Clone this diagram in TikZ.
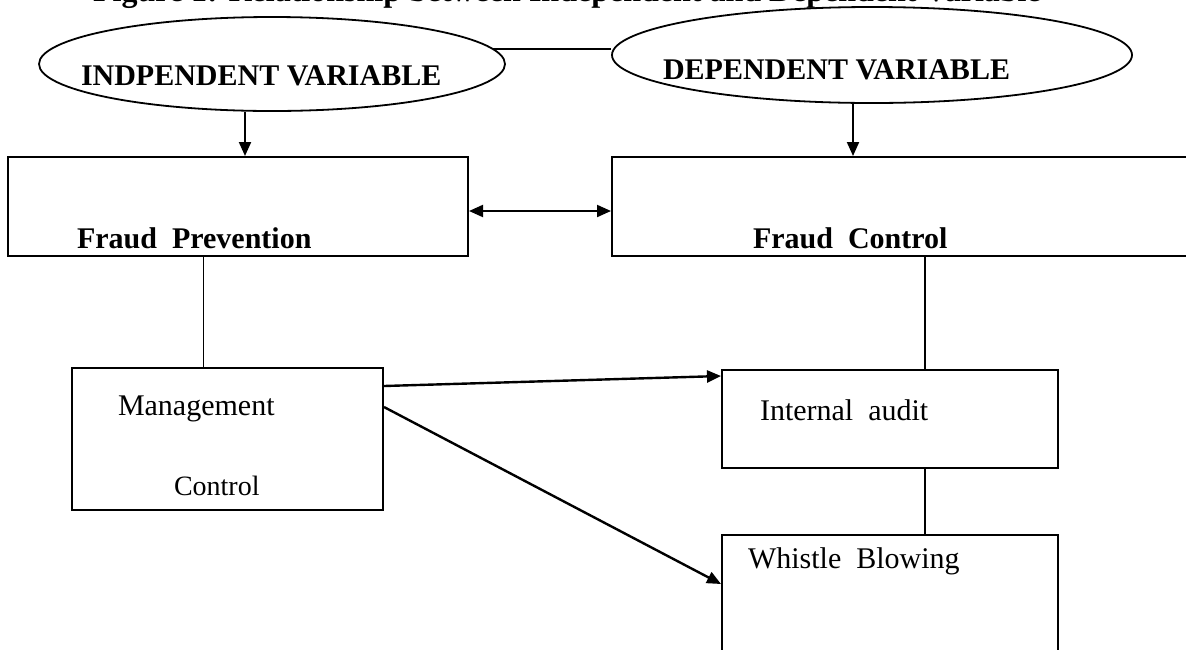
\documentclass[tikz,border=0pt]{standalone}
\usepackage{fontspec}
\setmainfont{Liberation Serif}
\usetikzlibrary{shapes.geometric,arrows.meta}

\tikzset{every picture/.style={line width=1pt}}
\tikzset{
  varellipse/.style={draw, ellipse, inner sep=0pt, line width=0.9pt},
  blockbox/.style={draw, rectangle, inner sep=0pt},
  lbl/.style={inner sep=0pt, font=\fontsize{15}{18}\selectfont},
  boldlbl/.style={inner sep=0pt, font=\fontsize{15}{18}\selectfont\bfseries},
  tip/.style={-{Triangle[length=7pt,width=6pt]}},
  twotip/.style={{Triangle[length=7pt,width=6pt]}-{Triangle[length=7pt,width=6pt]}},
}

\begin{document}
\begin{tikzpicture}[x=0.5pt,y=0.5pt,yscale=-1,xscale=1]
\useasboundingbox (0,0) rectangle (1186,649);

% Text Node (title, cut by the top of the page)
\node[boldlbl, anchor=base, font=\fontsize{16}{19}\selectfont\bfseries] (title) at (567,1) {Figure 1: Relationship between Independent and Dependent Variable};

%Shape: Ellipse
\node[varellipse, minimum width=233pt, minimum height=47pt] (indep) at (272,64) {};
%Shape: Ellipse
\node[varellipse, minimum width=260pt, minimum height=48pt] (dep) at (872,55) {};
%Shape: Rectangle
\node[blockbox, minimum width=230pt, minimum height=49.5pt] (prev) at (238,206.5) {};
%Shape: Rectangle
\node[blockbox, minimum width=294pt, minimum height=49.5pt] (ctrl) at (906,206.5) {};
%Shape: Rectangle
\node[blockbox, minimum width=155.5pt, minimum height=71pt] (mgmt) at (227.5,439) {};
%Shape: Rectangle
\node[blockbox, minimum width=168pt, minimum height=49pt] (audit) at (890,419) {};
%Shape: Rectangle
\node[blockbox, minimum width=168pt, minimum height=67.5pt] (whistle) at (890,602.5) {};

%Straight Lines
\draw (indep.4.5) -- (indep.4.5 -| dep.west);
%Straight Lines
\draw[tip] ([xshift=3.5pt]prev.north |- indep.south) -- ([xshift=3.5pt]prev.north);
%Straight Lines
\draw[tip] ([xshift=-9.5pt]dep.south) -- ([xshift=-9.5pt]dep.south |- ctrl.north);
%Straight Lines
\draw[twotip] ([yshift=2.25pt]prev.east) -- ([yshift=2.25pt]ctrl.west);
%Straight Lines
\draw[line width=0.8pt] ([xshift=-12pt]mgmt.north |- prev.south) -- ([xshift=-12pt]mgmt.north);
%Straight Lines
\draw[line width=0.8pt] ([xshift=17.5pt]audit.north |- ctrl.south) -- ([xshift=17.5pt]audit.north);
%Straight Lines
\draw[line width=0.8pt] ([xshift=17.5pt]audit.south) -- ([xshift=17.5pt]whistle.north);
%Straight Lines
\draw[tip, line width=1.2pt] ([yshift=9.5pt]mgmt.north east) -- ([yshift=3.5pt]audit.north west);
%Straight Lines
\draw[tip, line width=1.2pt] ([yshift=20pt]mgmt.north east) -- ([yshift=25pt]whistle.north west);

% Text Node
\node[boldlbl, anchor=west] (indep-t) at (80,76) {INDPENDENT VARIABLE};
% Text Node
\node[boldlbl, anchor=west] (dep-t) at (662,70) {DEPENDENT VARIABLE};
% Text Node
\node[boldlbl, anchor=base west] (prev-t) at (76,248) {Fraud\ \ Prevention};
% Text Node
\node[boldlbl, anchor=base west] (ctrl-t) at (752,248) {Fraud\ \ Control};
% Text Node
\node[lbl, anchor=base west] (mgmt-t) at (117,415) {Management};
% Text Node
\node[lbl, anchor=base west, font=\fontsize{14}{17}\selectfont] (mgmt-t2) at (173,495) {Control};
% Text Node
\node[lbl, anchor=base west] (audit-t) at (759,420) {Internal\ \ audit};
% Text Node
\node[lbl, anchor=base west] (whistle-t) at (747,568) {Whistle\ \ Blowing};

\end{tikzpicture}
\end{document}
